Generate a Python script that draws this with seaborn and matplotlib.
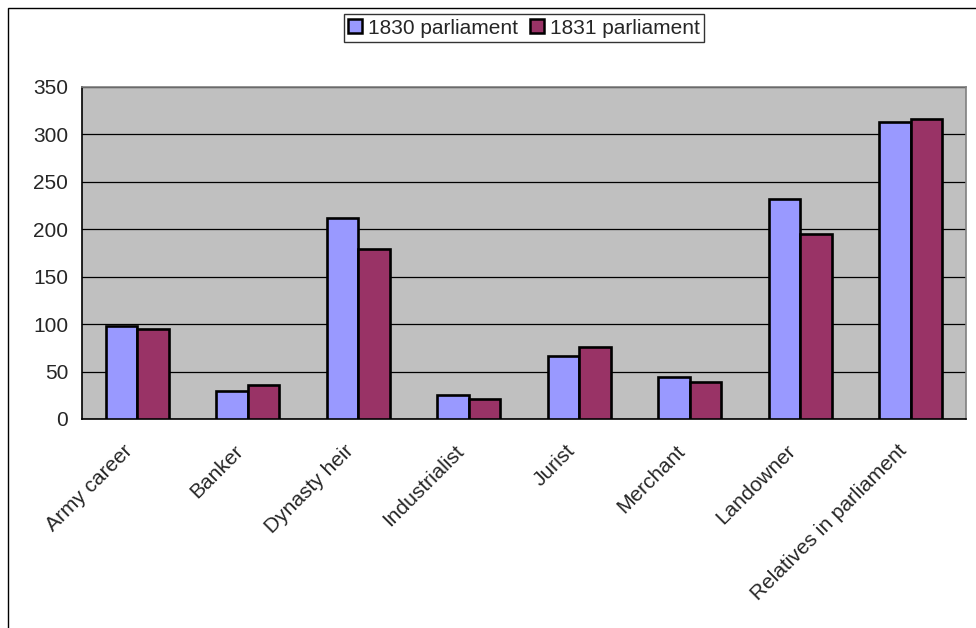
import matplotlib
matplotlib.use("Agg")
import matplotlib.pyplot as plt
import matplotlib.patches as mpatches
import matplotlib.transforms as mtransforms
import seaborn as sns
import pandas as pd
import numpy as np

categories = ["Army career", "Banker", "Dynasty heir", "Industrialist",
              "Jurist", "Merchant", "Landowner", "Relatives in parliament"]
series_names = ["1830 parliament", "1831 parliament"]
values_1830 = [98, 29, 212, 25, 66, 44, 232, 313]
values_1831 = [95, 36, 179, 21, 76, 39, 195, 316]
y_ticks = [0, 50, 100, 150, 200, 250, 300, 350]
colors = ["#9999FF", "#993366"]

df = pd.DataFrame({
    "category": categories * 2,
    "series": [series_names[0]] * len(categories) + [series_names[1]] * len(categories),
    "value": values_1830 + values_1831,
})

sns.set_style("white")
plt.rcParams["font.family"] = ["Liberation Sans", "DejaVu Sans"]
FS = 15

fig = plt.figure(figsize=(9.76, 6.28), dpi=100)
ax = fig.add_axes([82/976, 1-419/628, (966-82)/976, (419-87)/628])
ax.set_facecolor("#C0C0C0")

sns.barplot(data=df, x="category", y="value", hue="series", order=categories,
            hue_order=series_names, palette=colors, width=0.572, ax=ax,
            edgecolor="black", linewidth=1.9, saturation=1, legend=False,
            errorbar=None, zorder=3)

ax.set_ylim(0, 350)
ax.set_xlim(-0.5, len(categories) - 0.5)
ax.set_yticks(y_ticks)
ax.set_yticklabels([str(t) for t in y_ticks], fontsize=FS)
ax.yaxis.grid(True, color="black", linewidth=0.9, zorder=1)
ax.set_axisbelow(True)

# category boundaries as major ticks, labels on minor ticks
ax.set_xticks(np.arange(-0.5, len(categories), 1.0))
ax.set_xticklabels([])
ax.set_xticks(np.arange(len(categories)), minor=True)
ax.set_xticklabels(categories, minor=True, rotation=45, ha="right",
                   rotation_mode="anchor", fontsize=FS)
ax.tick_params(axis="x", which="minor", length=0, pad=16)
ax.tick_params(axis="x", which="major", direction="out", length=6, width=1, color="black")
ax.tick_params(axis="y", direction="out", length=6, width=1, color="black", pad=4)
ax.set_xlabel("")
ax.set_ylabel("")

offset = mtransforms.ScaledTranslation(-14/100, 0, fig.dpi_scale_trans)
for lab in ax.get_xticklabels(minor=True):
    lab.set_transform(lab.get_transform() + offset)

for side in ["left", "bottom"]:
    ax.spines[side].set_color("black")
    ax.spines[side].set_linewidth(1.2)
for side in ["top", "right"]:
    ax.spines[side].set_visible(True)
    ax.spines[side].set_color("#808080")
    ax.spines[side].set_linewidth(1.2)

handles = [mpatches.Patch(facecolor=c, edgecolor="black", linewidth=1.8) for c in colors]
leg = fig.legend(handles, series_names, loc="center",
                 bbox_to_anchor=(524/976, 1-28/628), ncol=2, frameon=True,
                 fancybox=False, edgecolor="black", fontsize=FS,
                 handlelength=0.65, handleheight=0.65, handletextpad=0.3,
                 columnspacing=0.6, borderpad=0.2, borderaxespad=0)
leg.get_frame().set_linewidth(1.0)

# outer chart frame
frame = mpatches.Rectangle((8/976, -0.1), 1.2, 1 - 8/628 + 0.1,
                           transform=fig.transFigure, fill=False,
                           edgecolor="black", linewidth=1.0)
fig.patches.append(frame)

fig.savefig("out.png", dpi=100)
